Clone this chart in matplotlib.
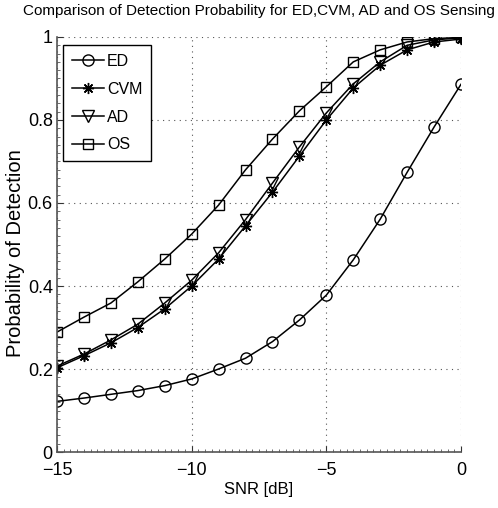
import matplotlib
matplotlib.use("Agg")
import matplotlib.pyplot as plt
import matplotlib.ticker as mtick

snr = [-15, -14, -13, -12, -11, -10, -9, -8, -7, -6, -5, -4, -3, -2, -1, 0]

pd_ed = [0.122, 0.130, 0.139, 0.148, 0.160, 0.176, 0.200, 0.226, 0.266, 0.318,
         0.378, 0.463, 0.561, 0.674, 0.783, 0.886]
pd_cvm = [0.203, 0.232, 0.263, 0.300, 0.345, 0.400, 0.465, 0.545, 0.626, 0.713,
          0.800, 0.877, 0.932, 0.969, 0.988, 0.995]
pd_ad = [0.207, 0.236, 0.270, 0.308, 0.359, 0.414, 0.480, 0.560, 0.648, 0.735,
         0.817, 0.887, 0.940, 0.980, 0.993, 0.998]
pd_os = [0.289, 0.325, 0.359, 0.410, 0.465, 0.525, 0.595, 0.680, 0.754, 0.822,
         0.880, 0.940, 0.969, 0.988, 0.996, 0.999]

plt.rcParams["font.family"] = ["Liberation Sans", "DejaVu Sans"]


def main():
    fig = plt.figure(figsize=(4.98, 5.08), dpi=100)
    ax = fig.add_axes([0.1145, 0.1102, 0.8112, 0.817])

    style = dict(color="black", lw=1.1, ms=8, mfc="none", mec="black", mew=1.0)
    ax.plot(snr, pd_ed, marker="o", label="ED", **style)
    # matlab style asterisk
    ax.plot(snr, pd_cvm, marker=(8, 2, 0), label="CVM", **style)
    ax.plot(snr, pd_ad, marker="v", label="AD", **style)
    ax.plot(snr, pd_os, marker="s", label="OS", **dict(style, ms=7))

    ax.set_xlim(-15, 0)
    ax.set_ylim(0, 1)
    ax.set_xticks([-15, -10, -5, 0])
    ax.set_yticks([0, 0.2, 0.4, 0.6, 0.8, 1])
    ax.yaxis.set_major_formatter(mtick.FuncFormatter(
        lambda v, p: "0" if v == 0 else ("1" if v == 1 else f"{v:.1f}")))
    ax.xaxis.set_minor_locator(mtick.MultipleLocator(0.25))
    ax.yaxis.set_minor_locator(mtick.MultipleLocator(0.02))
    ax.tick_params(which="both", direction="in", colors="#333333", labelcolor="black")
    ax.tick_params(which="major", length=4, width=0.8, labelsize=13)
    ax.tick_params(axis="x", which="major", pad=7)
    ax.tick_params(axis="y", which="major", pad=3)
    ax.tick_params(which="minor", length=2, width=0.5)

    ax.grid(True, which="major", linestyle=(0, (1, 4)), color="#555555", lw=0.8)
    ax.spines["top"].set_visible(False)
    ax.spines["right"].set_visible(False)
    for side in ("left", "bottom"):
        ax.spines[side].set_color("#555555")
        ax.spines[side].set_linewidth(1.2)

    ax.set_xlabel("SNR [dB]", fontsize=12, labelpad=2)
    ax.set_ylabel("Probability of Detection", fontsize=14.5)
    ax.yaxis.set_label_coords(-0.08, 0.48)
    ax.set_title("Comparison of Detection Probability for ED,CVM, AD and OS Sensing",
                 fontsize=11, pad=16)

    leg = ax.legend(loc="upper left", bbox_to_anchor=(0.015, 0.98), borderaxespad=0,
                    fancybox=False, framealpha=1, edgecolor="black",
                    handlelength=2.0, borderpad=0.55, labelspacing=0.8,
                    handletextpad=0.2, fontsize=11.5)
    leg.get_frame().set_linewidth(1.0)

    fig.savefig("out.png", dpi=100)


if __name__ == "__main__":
    main()
